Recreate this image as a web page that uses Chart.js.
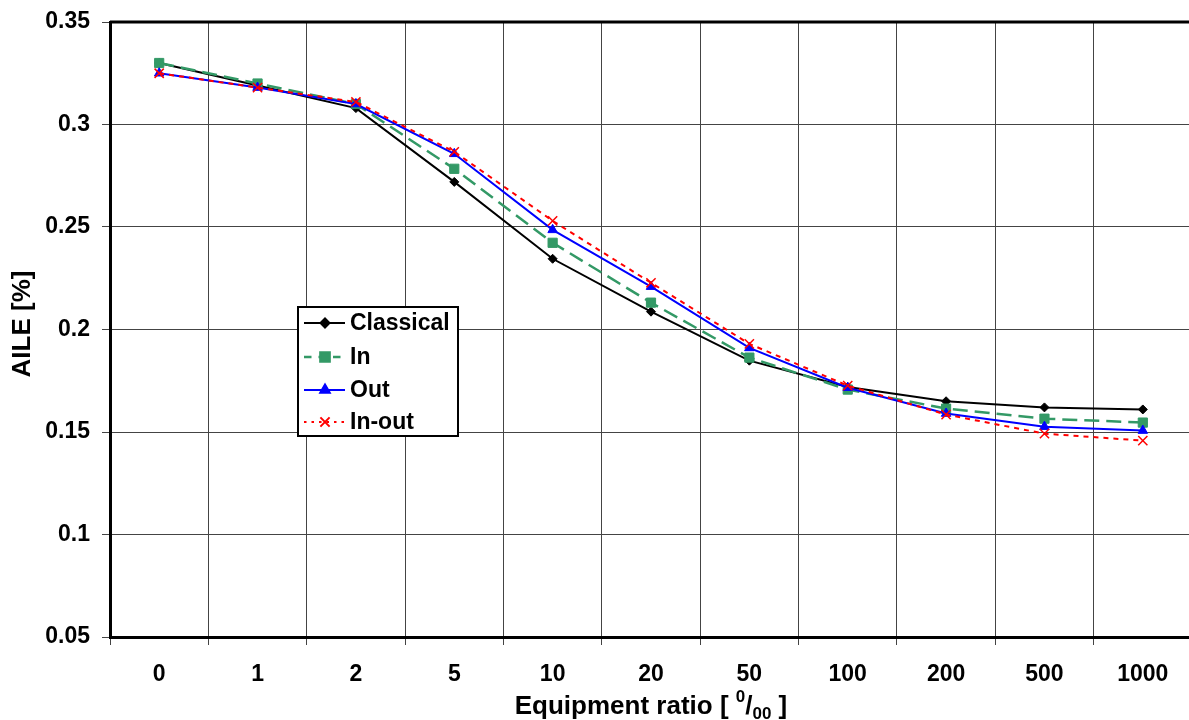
<!DOCTYPE html>
<html>
<head>
<meta charset="utf-8">
<script src="https://cdn.jsdelivr.net/npm/chart.js@4/dist/chart.umd.min.js"></script>
<style>
  html, body { margin: 0; padding: 0; background: #fff; overflow: hidden; }
  canvas { display: block; }
</style>
</head>
<body>
<canvas id="aileChart" width="1200" height="720"></canvas>
<script>
// Chart data
const categories = ['0', '1', '2', '5', '10', '20', '50', '100', '200', '500', '1000'];
const classical = [0.330, 0.319, 0.308, 0.272, 0.2345, 0.2087, 0.1848, 0.172, 0.165, 0.162, 0.161];
const inValues = [0.330, 0.320, 0.310, 0.2784, 0.2423, 0.2131, 0.1863, 0.1707, 0.1614, 0.1565, 0.1546];
const outValues = [0.325, 0.318, 0.310, 0.2857, 0.2486, 0.2209, 0.191, 0.1716, 0.159, 0.1526, 0.1507];
const inOutValues = [0.325, 0.318, 0.311, 0.2867, 0.253, 0.2228, 0.193, 0.1726, 0.1585, 0.1492, 0.1458];
const yTicks = [0.05, 0.1, 0.15, 0.2, 0.25, 0.3, 0.35];

const FONT = "'Liberation Sans', Arial, sans-serif";

const seriesStyles = [
    { label: 'Classical', data: classical, color: '#000000', dash: [], pointStyle: 'rectRot', radius: 4.5, width: 2, order: 3 },
    { label: 'In', data: inValues, color: '#339966', dash: [15, 7], pointStyle: 'rect', radius: 6.5, width: 2.5, order: 2 },
    { label: 'Out', data: outValues, color: '#0000ff', dash: [], pointStyle: 'triangle', radius: 5.5, width: 2, order: 1 },
    { label: 'In-out', data: inOutValues, color: '#ff0000', dash: [5, 5], pointStyle: 'crossRot', radius: 6.5, width: 2, order: 0 }
];

// Draws the legend box, axis titles and top border by hand
const decorations = {
    id: 'decorations',
    afterDraw(chart) {
        const ctx = chart.ctx;
        const area = chart.chartArea;
        ctx.save();

        // top frame line
        ctx.strokeStyle = '#000';
        ctx.lineWidth = 3;
        ctx.beginPath();
        ctx.moveTo(area.left, area.top);
        ctx.lineTo(area.right, area.top);
        ctx.stroke();

        // legend
        const box = { x: 298, y: 307, w: 160, h: 129 };
        ctx.fillStyle = '#fff';
        ctx.fillRect(box.x, box.y, box.w, box.h);
        ctx.lineWidth = 2;
        ctx.strokeStyle = '#000';
        ctx.strokeRect(box.x, box.y, box.w, box.h);
        const rows = [323, 357, 390, 422];
        ctx.font = 'bold 23px ' + FONT;
        ctx.textBaseline = 'middle';
        seriesStyles.forEach((s, i) => {
            const yy = rows[i];
            ctx.strokeStyle = s.color;
            ctx.fillStyle = s.color;
            ctx.lineWidth = s.width;
            ctx.setLineDash(s.dash.length ? [s.dash[0] * 0.5, s.dash[1]] : []);
            ctx.beginPath();
            ctx.moveTo(304, yy);
            ctx.lineTo(345, yy);
            ctx.stroke();
            ctx.setLineDash([]);
            Chart.helpers.drawPoint(ctx, {
                pointStyle: s.pointStyle, radius: s.radius, rotation: 0,
                borderWidth: s.pointStyle === 'crossRot' ? 1.5 : 1
            }, 325, yy);
            ctx.fillStyle = '#000';
            ctx.fillText(s.label, 350, yy + 1);
        });

        // y title
        ctx.save();
        ctx.translate(23, 324);
        ctx.rotate(-Math.PI / 2);
        ctx.font = 'bold 26px ' + FONT;
        ctx.textAlign = 'center';
        ctx.textBaseline = 'middle';
        ctx.fillStyle = '#000';
        ctx.fillText('AILE [%]', 0, 0);
        ctx.restore();

        // x title with superscript / subscript
        const big = 'bold 26px ' + FONT;
        const small = 'bold 17px ' + FONT;
        const parts = [
            { t: 'Equipment ratio [ ', f: big, dy: 0 },
            { t: '0', f: small, dy: -12 },
            { t: '/', f: big, dy: 0 },
            { t: '00', f: small, dy: 5 },
            { t: ' ]', f: big, dy: 0 }
        ];
        let total = 0;
        parts.forEach(p => { ctx.font = p.f; p.w = ctx.measureText(p.t).width; total += p.w; });
        let xx = (area.left + area.right) / 2 - total / 2;
        const base = 714;
        ctx.textAlign = 'left';
        ctx.textBaseline = 'alphabetic';
        ctx.fillStyle = '#000';
        parts.forEach(p => {
            ctx.font = p.f;
            ctx.fillText(p.t, xx, base + p.dy);
            xx += p.w;
        });

        ctx.restore();
    }
};

const ctx = document.getElementById('aileChart').getContext('2d');

const aileChart = new Chart(ctx, {
    type: 'line',
    data: {
        labels: categories,
        datasets: seriesStyles.map(s => ({
            label: s.label,
            data: s.data,
            order: s.order,
            borderColor: s.color,
            backgroundColor: s.color,
            borderWidth: s.width,
            borderDash: s.dash,
            pointStyle: s.pointStyle,
            pointRadius: s.radius,
            pointBorderWidth: s.pointStyle === 'crossRot' ? 1.5 : 1,
            pointBorderColor: s.color,
            pointBackgroundColor: s.color,
            tension: 0,
            fill: false
        }))
    },
    options: {
        responsive: false,
        animation: false,
        devicePixelRatio: 1,
        layout: { padding: { top: 22, right: 3, left: 0, bottom: 0 } },
        plugins: {
            legend: { display: false },
            tooltip: { enabled: false }
        },
        scales: {
            x: {
                type: 'category',
                offset: true,
                afterFit(scale) { scale.height = 83; },
                grid: {
                    offset: true,
                    color: '#444',
                    lineWidth: 1,
                    drawTicks: true,
                    tickLength: 8,
                    tickColor: '#444'
                },
                border: { display: true, color: '#000', width: 3 },
                ticks: {
                    color: '#000',
                    font: { family: FONT, size: 23, weight: 'bold' },
                    padding: 16,
                    maxRotation: 0,
                    autoSkip: false
                }
            },
            y: {
                min: 0.05,
                max: 0.35,
                afterFit(scale) {
                    scale.width = 110;
                    scale.paddingTop = 0;
                    scale.paddingBottom = 0;
                },
                afterBuildTicks(scale) { scale.ticks = yTicks.map(v => ({ value: v })); },
                grid: {
                    color: '#444',
                    lineWidth: 1,
                    drawTicks: true,
                    tickLength: 8,
                    tickColor: '#444'
                },
                border: { display: true, color: '#000', width: 3 },
                ticks: {
                    color: '#000',
                    font: { family: FONT, size: 23, weight: 'bold' },
                    padding: 12,
                    callback: v => String(Math.round(v * 100) / 100)
                }
            }
        }
    },
    plugins: [decorations]
});
</script>
</body>
</html>
